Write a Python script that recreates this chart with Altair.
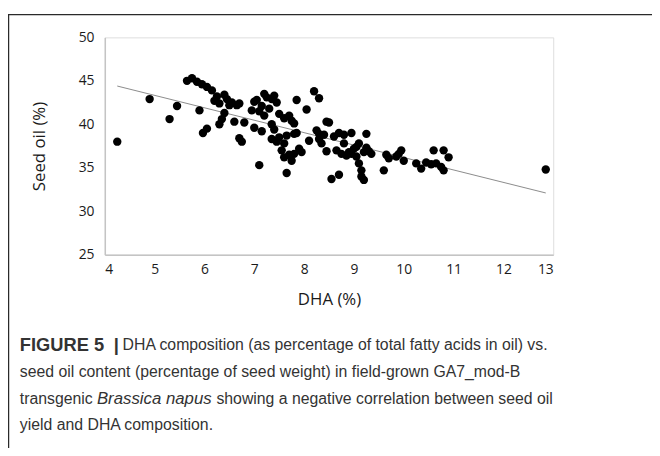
import altair as alt
import pandas as pd

# ---- data ----
dha = [4.25, 4.9, 5.3, 5.45, 5.65, 5.75, 5.85, 5.95, 6.05, 5.9, 5.97, 6.05,
       6.15, 6.2, 6.25, 6.3, 6.3, 6.35, 6.4, 6.4, 6.45, 6.5, 6.55, 6.6, 6.65, 6.7,
       6.7, 6.75, 6.8, 6.95, 7.0, 7.0, 7.05, 7.1, 7.15, 7.1, 7.15, 7.2, 7.2, 7.25,
       7.3, 7.35, 7.35, 7.4, 7.35, 7.4, 7.45, 7.45, 7.5, 7.5, 7.55, 7.6, 7.6, 7.6,
       7.65, 7.65, 7.7, 7.7, 7.75, 7.75, 7.8, 7.8, 7.8, 7.85, 7.85, 7.9, 7.95,
       8.05, 8.1, 8.2, 8.25, 8.3, 8.3, 8.3, 8.35, 8.4, 8.45, 8.45, 8.5, 8.55, 8.6,
       8.65, 8.7, 8.7, 8.75, 8.8, 8.8, 8.85, 8.9, 8.95, 8.95, 9.0, 9.05, 9.05, 9.1,
       9.1, 9.15, 9.15, 9.2, 9.2, 9.25, 9.25, 9.3, 9.35, 9.6, 9.65, 9.7, 9.85, 9.9,
       9.95, 10.0, 10.25, 10.35, 10.45, 10.55, 10.6, 10.65, 10.75, 10.8, 10.8,
       10.9, 12.85]
oil = [38.0, 42.9, 40.6, 42.1, 45.0, 45.3, 44.9, 44.6, 44.3, 41.6, 39.0, 39.5,
       43.9, 42.7, 43.2, 42.4, 40.0, 40.6, 43.4, 41.3, 42.9, 42.2, 42.5, 40.3, 42.2, 42.4,
       38.4, 38.0, 40.2, 41.6, 42.6, 39.6, 42.8, 41.5, 42.1, 35.3, 39.2, 43.5, 41.0, 43.1,
       41.8, 42.9, 40.0, 43.3, 38.3, 39.4, 42.5, 38.0, 41.2, 38.5, 37.0, 40.7, 36.2, 37.8,
       38.7, 34.4, 36.5, 41.0, 40.4, 35.8, 40.1, 38.9, 36.6, 42.8, 39.0, 37.2, 36.8,
       41.7, 38.1, 43.8, 39.3, 38.9, 38.3, 43.0, 37.8, 38.8, 40.3, 36.9, 40.2, 33.7, 38.6,
       37.0, 39.0, 34.2, 36.6, 38.8, 37.8, 36.4, 36.8, 39.0, 36.6, 37.2, 37.4, 36.3, 37.8,
       35.5, 34.7, 34.0, 33.6, 36.8, 37.3, 38.9, 36.9, 36.6, 34.7, 36.5, 36.1, 36.3, 36.6,
       37.0, 35.8, 35.5, 34.9, 35.6, 35.4, 37.0, 35.5, 35.1, 34.7, 37.0,
       36.2, 34.8]
trend_dha = [4.25, 12.85]
trend_oil = [44.4, 32.1]
x_ticks = [4, 5, 6, 7, 8, 9, 10, 11, 12, 13]
y_ticks = [25, 30, 35, 40, 45, 50]

cap_bold = "FIGURE 5"
cap_bar = "|"
cap_line1 = "DHA composition (as percentage of total fatty acids in oil) vs."
cap_line2 = "seed oil content (percentage of seed weight) in field-grown GA7_mod-B"
cap_line3a = "transgenic"
cap_line3_it = "Brassica napus"
cap_line3b = "showing a negative correlation between seed oil"
cap_line4 = "yield and DHA composition."

pts = pd.DataFrame({"DHA": dha, "Oil": oil})
trend = pd.DataFrame({"DHA": trend_dha, "Oil": trend_oil})

xs = alt.Scale(domain=[4, 13], nice=False, zero=False)
ys = alt.Scale(domain=[25, 50], nice=False, zero=False)

W, H = 454, 220
TICK_FONT = "Open Sans"

x_axis = alt.Axis(values=x_ticks, title="DHA (%)", grid=False, ticks=False,
                  domainColor="#c4c4c4", domainWidth=1.5, labelFont=TICK_FONT,
                  labelFontSize=14, labelColor="#1a1a1a", labelPadding=8,
                  titleFont=TICK_FONT, titleFontSize=17, titleFontWeight="normal",
                  titleColor="#1a1a1a", titleY=45, titleBaseline="middle")
y_axis = alt.Axis(values=y_ticks, title="Seed oil (%)", grid=False, ticks=False,
                  domainColor="#c4c4c4", domainWidth=1.5, labelFont=TICK_FONT,
                  labelFontSize=14, labelColor="#1a1a1a", labelPadding=11,
                  titleFont=TICK_FONT, titleFontSize=17, titleFontWeight="normal",
                  titleColor="#1a1a1a", titleAngle=-90, titleX=-66, titleY=H / 2,
                  titleAlign="center", titleBaseline="middle")

points = alt.Chart(pts).mark_circle(size=72, color="black", opacity=1).encode(
    x=alt.X("DHA:Q", scale=xs, axis=x_axis),
    y=alt.Y("Oil:Q", scale=ys, axis=y_axis),
)

line = alt.Chart(trend).mark_line(color="#8a8a8a", strokeWidth=1).encode(
    x=alt.X("DHA:Q", scale=xs, axis=x_axis),
    y=alt.Y("Oil:Q", scale=ys, axis=y_axis),
)

one = pd.DataFrame({"k": [0]})
border = alt.Chart(one).mark_rect(fill=None, stroke="#2a2a2a", strokeWidth=1.3).encode(
    x=alt.value(-97.4), x2=alt.value(700), y=alt.value(-23), y2=alt.value(500)
)

CAP_X = -86
CAP_FONT = "Liberation Sans"
CAP_SIZE = 16
LINE_Y = [312, 339, 366, 393]


def cap(text, x, y, size=CAP_SIZE, weight="normal", style="normal"):
    return alt.Chart(pd.DataFrame({"t": [text]})).mark_text(
        align="left", baseline="middle", font=CAP_FONT, fontSize=size,
        fontWeight=weight, fontStyle=style, color="#333"
    ).encode(text="t:N", x=alt.value(x), y=alt.value(y))


caption = [
    cap(cap_bold, CAP_X, LINE_Y[0], size=18.5, weight="bold"),
    cap(cap_bar, CAP_X + 95, LINE_Y[0], size=18.5, weight="bold"),
    cap(cap_line1, CAP_X + 104, LINE_Y[0]),
    cap(cap_line2, CAP_X, LINE_Y[1]),
    cap(cap_line3a, CAP_X, LINE_Y[2]),
    cap(cap_line3_it, CAP_X + 78, LINE_Y[2], size=17, style="italic"),
    cap(cap_line3b, CAP_X + 199, LINE_Y[2]),
    cap(cap_line4, CAP_X, LINE_Y[3]),
]

chart = alt.layer(border, line, points, *caption).properties(
    width=W, height=H,
    autosize=alt.AutoSizeParams(type="none"),
    padding={"left": 98, "top": 27, "right": 100, "bottom": 193},
).configure_view(strokeWidth=0).configure(background="white")

chart.save("out.html", embed_options={"renderer": "svg", "actions": False})
